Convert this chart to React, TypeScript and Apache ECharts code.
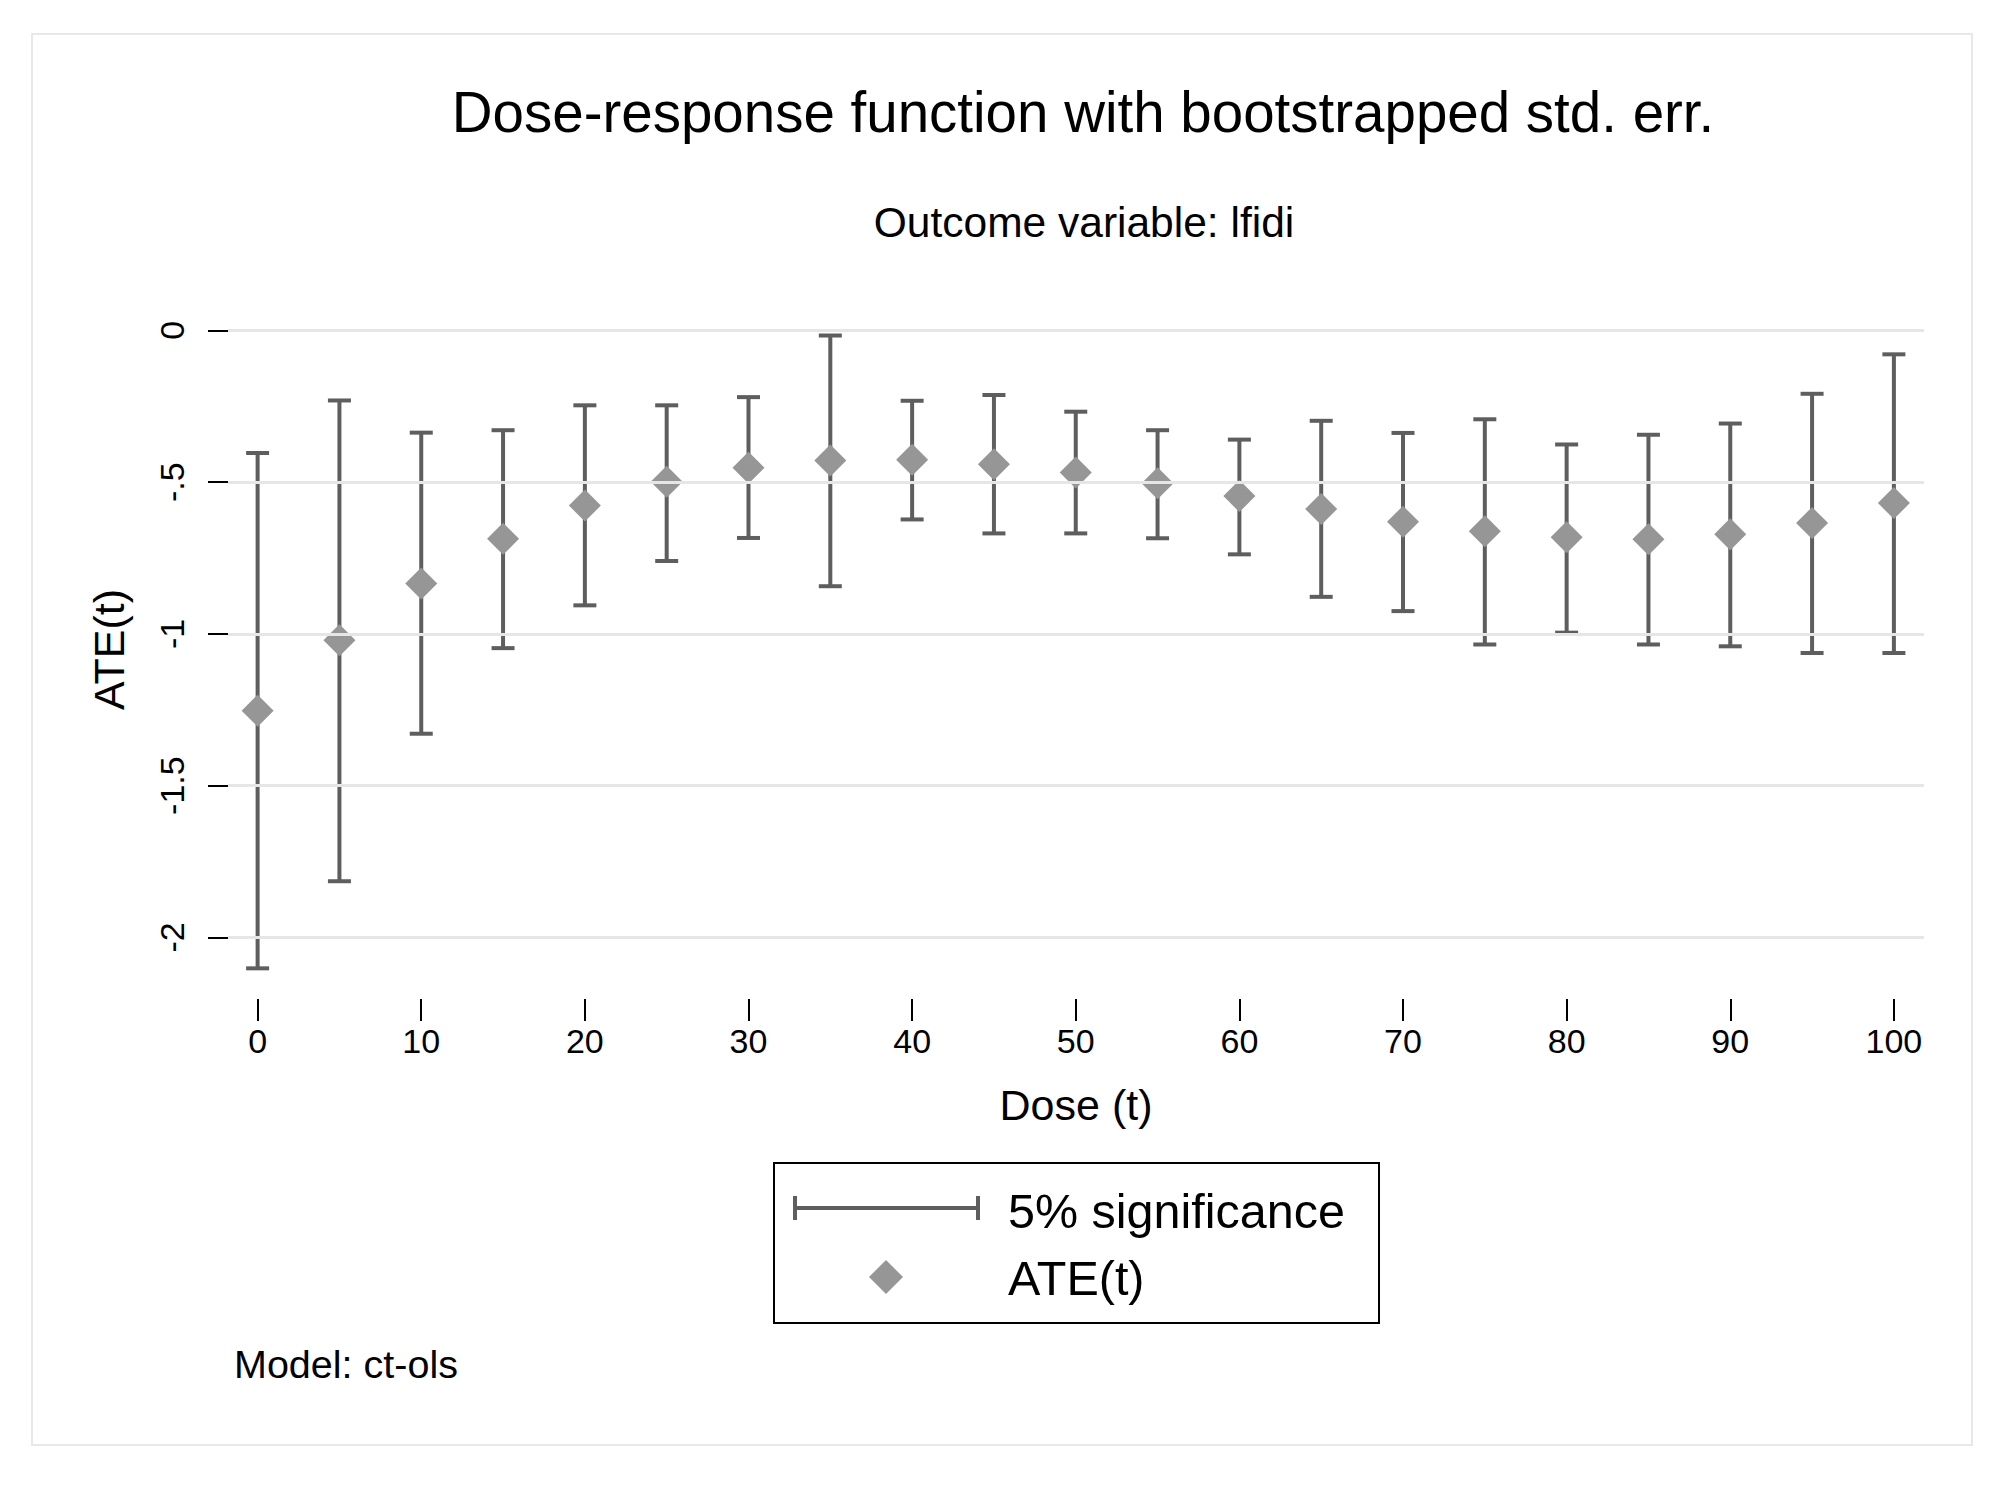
import React, { useEffect, useRef } from "react";
import * as echarts from "echarts";

const titleText = "Dose-response function with bootstrapped std. err.";
const subtitleText = "Outcome variable: lfidi";
const noteText = "Model: ct-ols";
const xName = "Dose (t)";
const yName = "ATE(t)";
const legendLabels = ["5% significance", "ATE(t)"];

const doses = [0, 5, 10, 15, 20, 25, 30, 35, 40, 45, 50, 55, 60, 65, 70, 75, 80, 85, 90, 95, 100];
const ate = [-1.253, -1.021, -0.834, -0.687, -0.577, -0.499, -0.453, -0.429, -0.426, -0.441, -0.468, -0.504, -0.546, -0.589, -0.631, -0.662, -0.682, -0.688, -0.672, -0.635, -0.569];
const upper = [-0.404, -0.231, -0.337, -0.329, -0.247, -0.247, -0.22, -0.017, -0.232, -0.213, -0.268, -0.329, -0.36, -0.298, -0.338, -0.293, -0.376, -0.344, -0.307, -0.209, -0.079];
const lower = [-2.102, -1.815, -1.329, -1.047, -0.906, -0.76, -0.684, -0.843, -0.623, -0.669, -0.669, -0.685, -0.738, -0.878, -0.925, -1.035, -0.996, -1.035, -1.041, -1.063, -1.063];
const xTicks = [0, 10, 20, 30, 40, 50, 60, 70, 80, 90, 100];
const yTicks = [0, -0.5, -1, -1.5, -2];

const FONT = "'Liberation Sans', Arial, sans-serif";
const BAR = "#5e5e5e";
const DIAMOND = "#969696";
const GRIDC = "#e6e6e6";

export default function App() {
  const ref = useRef<HTMLDivElement>(null);
  useEffect(() => {
    if (!ref.current) return;
    const chart = echarts.init(ref.current, undefined, { renderer: "svg" });
    const fmtY = (v: number) => String(v).replace("0.", ".");
    const option: any = {
      animation: false,
      backgroundColor: "#ffffff",
      textStyle: { fontFamily: FONT },
      grid: { left: 228, right: 80, top: 300, bottom: 491, outerBoundsMode: "none" },
      xAxis: {
        type: "value",
        min: -1.81,
        max: 101.84,
        name: xName,
        nameLocation: "middle",
        nameGap: 84,
        nameTextStyle: { fontSize: 43, color: "#000", fontFamily: FONT },
        axisLine: { show: false, onZero: false },
        splitLine: { show: false },
        axisTick: { show: true, length: 22, customValues: xTicks, lineStyle: { color: "#000", width: 2 } },
        axisLabel: { customValues: xTicks, fontSize: 34, color: "#000", margin: 25, fontFamily: FONT },
      },
      yAxis: {
        type: "value",
        min: -2.203,
        max: 0.1,
        name: yName,
        nameLocation: "middle",
        nameGap: 98,
        nameRotate: 90,
        nameTextStyle: { fontSize: 43, color: "#000", fontFamily: FONT },
        axisLine: { show: false, onZero: false },
        splitLine: { show: false },
        axisTick: { show: true, length: 20, customValues: yTicks, lineStyle: { color: "#000", width: 2 } },
        axisLabel: { customValues: yTicks, rotate: 90, fontSize: 34, color: "#000", margin: 39, fontFamily: FONT, formatter: fmtY },
      },
      series: [
        {
          type: "scatter",
          data: [],
          z: 1,
          silent: true,
          markLine: {
            silent: true,
            symbol: "none",
            label: { show: false },
            lineStyle: { color: GRIDC, width: 3, type: "solid" },
            emphasis: { disabled: true },
            data: yTicks.map((v) => ({ yAxis: v })),
          },
        },
        {
          type: "custom",
          name: legendLabels[0],
          z: 2,
          data: doses.map((d, i) => [d, lower[i], upper[i]]),
          encode: { x: 0, y: [1, 2] },
          renderItem: (_p: any, api: any) => {
            const x = api.value(0);
            const pHi = api.coord([x, api.value(2)]);
            const pLo = api.coord([x, api.value(1)]);
            const h = 11.5;
            const st = { stroke: BAR, lineWidth: 4 };
            return {
              type: "group",
              children: [
                { type: "line", shape: { x1: pHi[0], y1: pHi[1], x2: pLo[0], y2: pLo[1] }, style: st },
                { type: "line", shape: { x1: pHi[0] - h, y1: pHi[1], x2: pHi[0] + h, y2: pHi[1] }, style: st },
                { type: "line", shape: { x1: pLo[0] - h, y1: pLo[1], x2: pLo[0] + h, y2: pLo[1] }, style: st },
              ],
            };
          },
        },
        {
          type: "scatter",
          name: legendLabels[1],
          z: 3,
          symbol: "diamond",
          symbolSize: 32,
          itemStyle: { color: DIAMOND, opacity: 1 },
          data: doses.map((d, i) => [d, ate[i]]),
        },
      ],
      graphic: [
        { type: "rect", shape: { x: 32, y: 34, width: 1940, height: 1411 }, style: { fill: "none", stroke: "#e8e8e8", lineWidth: 2 }, z: -1 },
        { type: "text", x: 1083, y: 112, style: { text: titleText, fontSize: 56.5, fontFamily: FONT, fill: "#000", align: "center", verticalAlign: "middle" } },
        { type: "text", x: 1084, y: 222, style: { text: subtitleText, fontSize: 42.5, fontFamily: FONT, fill: "#000", align: "center", verticalAlign: "middle" } },
        { type: "text", x: 234, y: 1364, style: { text: noteText, fontSize: 39.5, fontFamily: FONT, fill: "#000", align: "left", verticalAlign: "middle" } },
        { type: "rect", shape: { x: 774, y: 1163, width: 605, height: 160 }, style: { fill: "#fff", stroke: "#000", lineWidth: 2 } },
        { type: "line", shape: { x1: 795, y1: 1208, x2: 978, y2: 1208 }, style: { stroke: BAR, lineWidth: 4 } },
        { type: "line", shape: { x1: 795, y1: 1196, x2: 795, y2: 1220 }, style: { stroke: BAR, lineWidth: 4 } },
        { type: "line", shape: { x1: 978, y1: 1196, x2: 978, y2: 1220 }, style: { stroke: BAR, lineWidth: 4 } },
        { type: "polygon", shape: { points: [[886, 1260], [903, 1277], [886, 1294], [869, 1277]] }, style: { fill: DIAMOND } },
        { type: "text", x: 1008, y: 1211, style: { text: legendLabels[0], fontSize: 48.5, fontFamily: FONT, fill: "#000", align: "left", verticalAlign: "middle" } },
        { type: "text", x: 1008, y: 1278, style: { text: legendLabels[1], fontSize: 48.5, fontFamily: FONT, fill: "#000", align: "left", verticalAlign: "middle" } },
      ],
    };
    chart.setOption(option);
    return () => chart.dispose();
  }, []);
  return <div ref={ref} style={{ position: "absolute", left: 0, top: 0, width: 2004, height: 1490 }} />;
}
